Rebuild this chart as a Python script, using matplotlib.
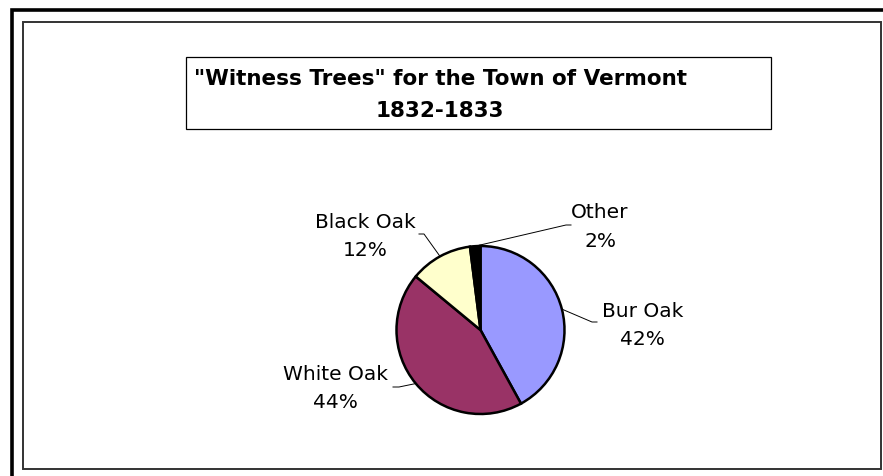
import numpy as np
import matplotlib
matplotlib.use("Agg")
import matplotlib.pyplot as plt
from matplotlib.patches import Rectangle

# data
species = ["Bur Oak", "White Oak", "Black Oak", "Other"]
shares = [42, 44, 12, 2]
slice_colors = ["#9999FF", "#993366", "#FFFFCC", "#000000"]
title_lines = ['"Witness Trees" for the Town of Vermont', "1832-1833"]

# layout, in pixels with y counted from the top
W, H = 883, 476
pie_cx, pie_cy, pie_r = 480.5, 330, 84
# label centre x and the baselines of its two lines
label_x = [642.5, 335.5, 365, 600]
label_base = [(317, 345), (380, 408), (228, 256), (218, 247)]
# leader lines: pie edge -> elbow -> short tick towards the label
elbow = [(592, 322), (399, 387), (424, 234), (566, 225)]
tick = [(597, 322), (393, 387), (419, 234), (571, 225)]

plt.rcParams["font.family"] = ["DejaVu Sans"]
fig = plt.figure(figsize=(W / 100, H / 100), dpi=100)
ax = fig.add_axes([0, 0, 1, 1])


def up(y):
    return H - y


wedges, _ = ax.pie(shares, colors=slice_colors, startangle=90, counterclock=False,
                   center=(pie_cx, up(pie_cy)), radius=pie_r, frame=True,
                   wedgeprops=dict(edgecolor="black", linewidth=1.8))
ax.set_xlim(0, W)
ax.set_ylim(0, H)
ax.set_aspect("auto")
ax.axis("off")

# outer border (runs off the right and bottom edges) and chart area border
ax.add_patch(Rectangle((11.5, up(H + 20)), W + 20, H + 20 - 9.5, fill=False,
                       edgecolor="black", linewidth=2.6))
ax.add_patch(Rectangle((23, up(468.5)), 857.5, 468.5 - 21.5, fill=False,
                       edgecolor="#333333", linewidth=1.4))

# title box
ax.add_patch(Rectangle((186, up(129)), 771 - 186, 129 - 57, facecolor="white",
                       edgecolor="black", linewidth=0.9))
ax.text(440, up(85), title_lines[0], ha="center", va="baseline",
        fontsize=15.5, fontweight="bold")
ax.text(440, up(117), title_lines[1], ha="center", va="baseline",
        fontsize=15.5, fontweight="bold")

# data labels with leader lines from the middle of each slice
for w, name, val, lx, lb, ep, tp in zip(wedges, species, shares, label_x,
                                         label_base, elbow, tick):
    mid = np.deg2rad((w.theta1 + w.theta2) / 2)
    sx = pie_cx + pie_r * np.cos(mid)
    sy = up(pie_cy) + pie_r * np.sin(mid)
    ax.plot([sx, ep[0], tp[0]], [sy, up(ep[1]), up(tp[1])], color="black",
            linewidth=0.7)
    ax.text(lx, up(lb[0]), name, ha="center", va="baseline", fontsize=14.5)
    ax.text(lx, up(lb[1]), f"{val}%", ha="center", va="baseline", fontsize=14.5)

fig.savefig("out.png", dpi=100)
